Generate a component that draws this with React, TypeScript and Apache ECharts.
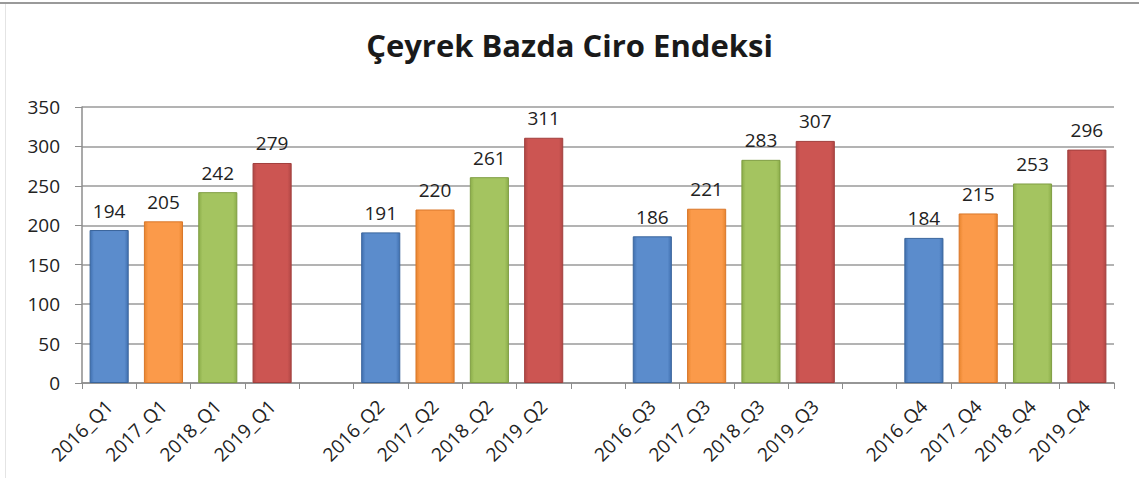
import React, { useEffect, useRef } from "react";
import * as echarts from "echarts";

const years = ["2016", "2017", "2018", "2019"];
const quarters = ["Q1", "Q2", "Q3", "Q4"];
const q1Values = [194, 205, 242, 279];
const q2Values = [191, 220, 261, 311];
const q3Values = [186, 221, 283, 307];
const q4Values = [184, 215, 253, 296];
const yTicks = [0, 50, 100, 150, 200, 250, 300, 350];
const title = "Çeyrek Bazda Ciro Endeksi";

const baseColors = [
  ["#4070b0", "#5b8ccc", "#4070b0"],
  ["#e8852f", "#fb9a4a", "#e8852f"],
  ["#8cae4a", "#a4c460", "#8cae4a"],
  ["#b14745", "#cc5552", "#b14745"],
];
const borderColors = ["#3a659c", "#d9772a", "#7f9d43", "#a13f3d"];

export default function App() {
  const ref = useRef<HTMLDivElement>(null);
  useEffect(() => {
    if (!ref.current) return;
    const chart = echarts.init(ref.current, null, { renderer: "svg" });
    const groups = [q1Values, q2Values, q3Values, q4Values];
    const cats: string[] = [];
    const data: any[] = [];
    groups.forEach((vals, qi) => {
      if (qi > 0) {
        cats.push("");
        data.push("-");
      }
      vals.forEach((v, yi) => {
        cats.push(years[yi] + "_" + quarters[qi]);
        const c = baseColors[yi];
        data.push({
          value: v,
          itemStyle: {
            color: new echarts.graphic.LinearGradient(0, 0, 1, 0, [
              { offset: 0, color: c[0] },
              { offset: 0.1, color: c[1] },
              { offset: 0.9, color: c[1] },
              { offset: 1, color: c[2] },
            ]),
            borderColor: borderColors[yi],
            borderWidth: 1,
          },
        });
      });
    });
    const font = "'Open Sans', 'Noto Sans', sans-serif";
    chart.setOption({
      animation: false,
      backgroundColor: "#ffffff",
      title: {
        text: title,
        left: "center",
        top: 24,
        textStyle: {
          fontFamily: font,
          fontWeight: "bold",
          fontSize: 31,
          color: "#1a1a1a",
        },
      },
      graphic: [
        {
          type: "line",
          shape: { x1: 0, y1: 3, x2: 1139, y2: 3 },
          style: { stroke: "#9a9a9a", lineWidth: 2 },
        },
        {
          type: "line",
          shape: { x1: 5.5, y1: 4, x2: 5.5, y2: 478 },
          style: { stroke: "#e4e4e4", lineWidth: 1 },
        },
      ],
      grid: { left: 82, right: 25, top: 107, bottom: 98 },
      xAxis: {
        type: "category",
        data: cats,
        axisLine: { lineStyle: { color: "#8c8c8c", width: 1.5 } },
        axisTick: { show: true, length: 6, alignWithLabel: false, lineStyle: { color: "#8c8c8c" } },
        axisLabel: {
          interval: 0,
          rotate: 45,
          fontFamily: font,
          fontSize: 19,
          color: "#222",
          margin: 20,
        },
      },
      yAxis: {
        type: "value",
        min: yTicks[0],
        max: yTicks[yTicks.length - 1],
        interval: 50,
        axisLine: { show: true, lineStyle: { color: "#8c8c8c", width: 1.5 } },
        axisTick: { show: true, length: 7, lineStyle: { color: "#8c8c8c" } },
        splitLine: { lineStyle: { color: "#9a9a9a", width: 1.5 } },
        axisLabel: {
          fontFamily: font,
          fontSize: 19,
          color: "#222",
          margin: 22,
        },
      },
      series: [
        {
          type: "bar",
          data,
          barWidth: "72%",
          label: {
            show: true,
            position: "top",
            distance: 10,
            fontFamily: font,
            fontSize: 19,
            color: "#222",
          },
        },
      ],
    });
    return () => chart.dispose();
  }, []);
  return (
    <div
      ref={ref}
      style={{ position: "absolute", left: 0, top: 0, width: 1139, height: 481 }}
    />
  );
}
